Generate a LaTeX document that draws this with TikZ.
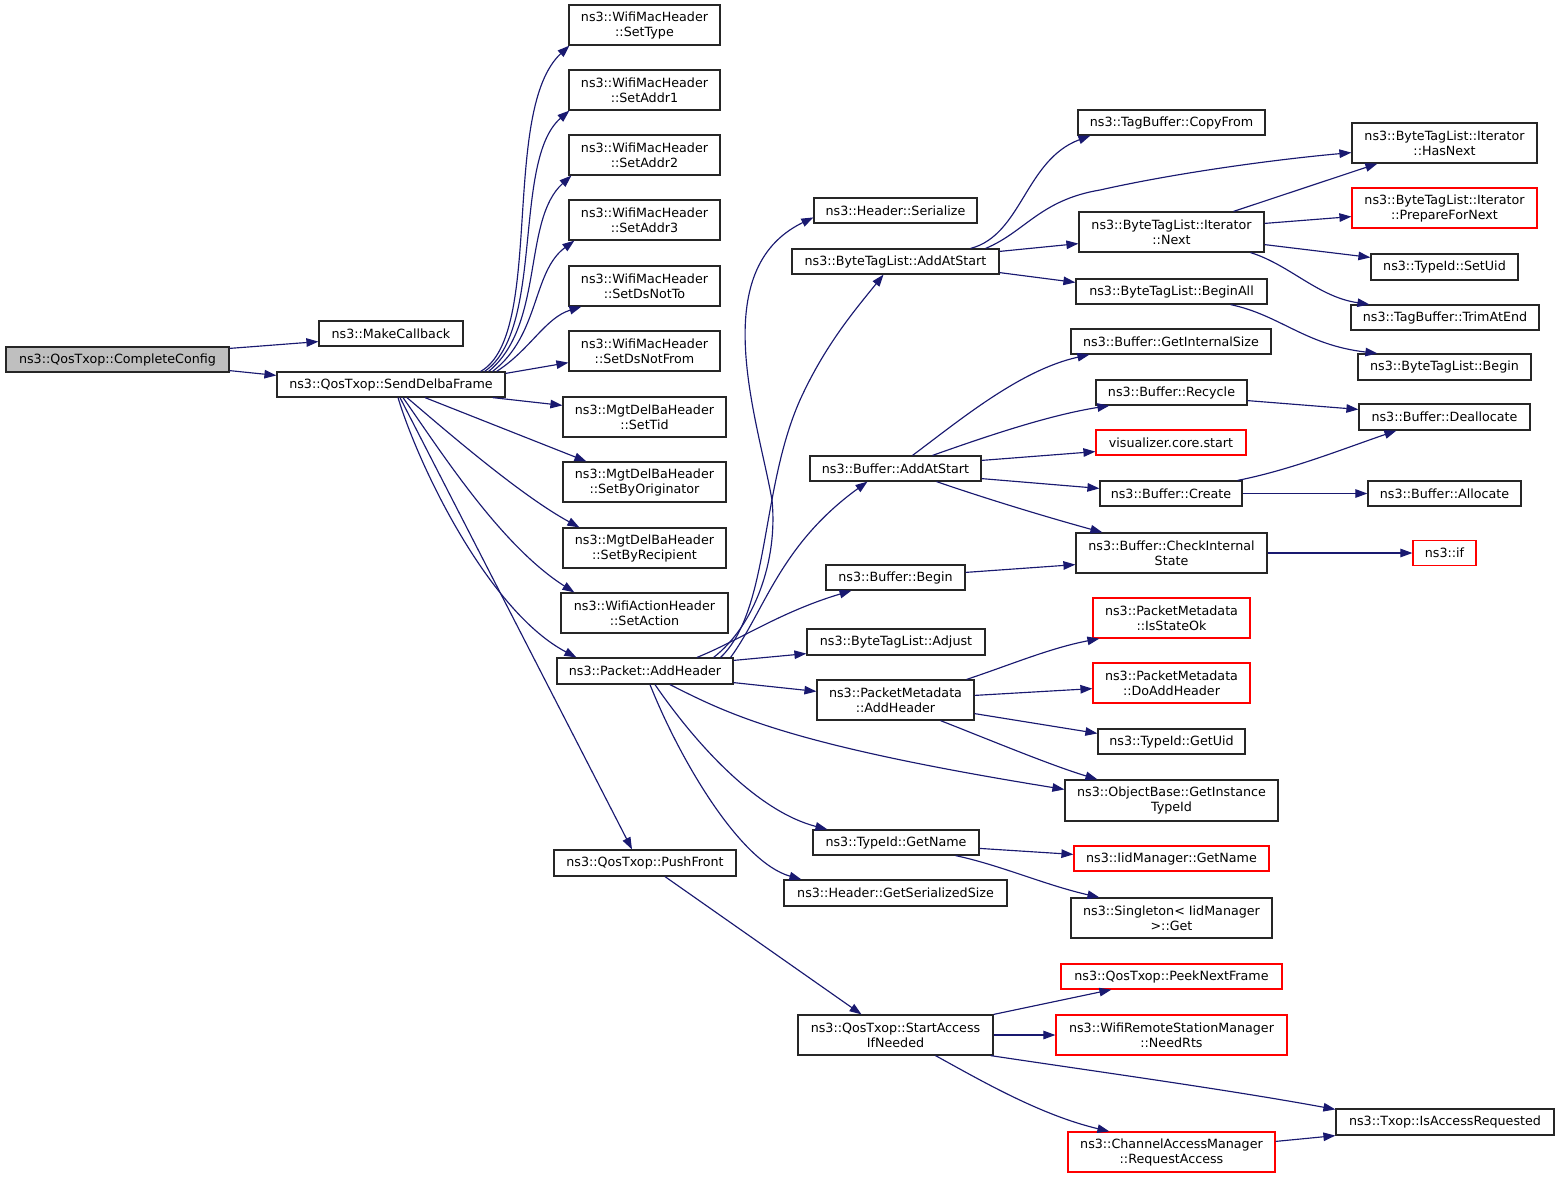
\documentclass[tikz,border=0pt]{standalone}
\usepackage{fontspec}
\setmainfont{DejaVu Sans}
\usetikzlibrary{arrows.meta}
\definecolor{navy}{RGB}{25,25,112}
\definecolor{boxgray}{RGB}{191,191,191}
\begin{document}
\begin{tikzpicture}[x=1pt,y=-1pt,
  box/.style={draw=black!85, line width=1.2pt, inner sep=1pt, align=center, fill=white,
    font=\fontsize{12.7}{15}\selectfont},
  redbox/.style={box, draw=red},
  edge/.style={draw=navy, line width=1.15pt, -{Triangle[length=12pt,width=8.5pt]}}]
\useasboundingbox (0,0) rectangle (1560,1179);
% column 1
\node[box, fill=boxgray, minimum width=223pt, minimum height=25pt] (complete) at (117.5,359.5) {ns3::QosTxop::CompleteConfig};
% column 2
\node[box, minimum width=144pt, minimum height=25pt] (makecb) at (391,333.5) {ns3::MakeCallback};
\node[box, minimum width=228pt, minimum height=25pt] (send) at (391,384.5) {ns3::QosTxop::SendDelbaFrame};
% column 3
\node[box, minimum width=151pt, minimum height=40pt] (settype) at (644.5,25) {ns3::WifiMacHeader\\::SetType};
\node[box, minimum width=151pt, minimum height=40pt] (setaddr1) at (644.5,90) {ns3::WifiMacHeader\\::SetAddr1};
\node[box, minimum width=151pt, minimum height=40pt] (setaddr2) at (644.5,155) {ns3::WifiMacHeader\\::SetAddr2};
\node[box, minimum width=151pt, minimum height=40pt] (setaddr3) at (644.5,220) {ns3::WifiMacHeader\\::SetAddr3};
\node[box, minimum width=151pt, minimum height=40pt] (setdsto) at (644.5,286) {ns3::WifiMacHeader\\::SetDsNotTo};
\node[box, minimum width=151pt, minimum height=40pt] (setdsfrom) at (644.5,351) {ns3::WifiMacHeader\\::SetDsNotFrom};
\node[box, minimum width=163pt, minimum height=40pt] (settid) at (644.5,417) {ns3::MgtDelBaHeader\\::SetTid};
\node[box, minimum width=163pt, minimum height=40pt] (setorig) at (644.5,482) {ns3::MgtDelBaHeader\\::SetByOriginator};
\node[box, minimum width=163pt, minimum height=40pt] (setrecip) at (644.5,548) {ns3::MgtDelBaHeader\\::SetByRecipient};
\node[box, minimum width=167pt, minimum height=40pt] (setaction) at (644.5,613) {ns3::WifiActionHeader\\::SetAction};
\node[box, minimum width=176pt, minimum height=26pt] (addheader) at (645,671) {ns3::Packet::AddHeader};
\node[box, minimum width=182pt, minimum height=26pt] (pushfront) at (645,863) {ns3::QosTxop::PushFront};
% column 4
\node[box, minimum width=163pt, minimum height=25pt] (serialize) at (895.5,210.5) {ns3::Header::Serialize};
\node[box, minimum width=207pt, minimum height=25pt] (btladd) at (895.5,261.5) {ns3::ByteTagList::AddAtStart};
\node[box, minimum width=171pt, minimum height=25pt] (bufadd) at (895.5,468.5) {ns3::Buffer::AddAtStart};
\node[box, minimum width=139pt, minimum height=25pt] (bufbegin) at (895.5,577.5) {ns3::Buffer::Begin};
\node[box, minimum width=178pt, minimum height=26pt] (adjust) at (896,642) {ns3::ByteTagList::Adjust};
\node[box, minimum width=157pt, minimum height=40pt] (pmadd) at (895.5,700) {ns3::PacketMetadata\\::AddHeader};
\node[box, minimum width=166pt, minimum height=25pt] (getname) at (896,842.5) {ns3::TypeId::GetName};
\node[box, minimum width=223pt, minimum height=26pt] (getser) at (895.5,893) {ns3::Header::GetSerializedSize};
\node[box, minimum width=195pt, minimum height=40pt] (startacc) at (895.5,1035) {ns3::QosTxop::StartAccess\\IfNeeded};
% column 5
\node[box, minimum width=187pt, minimum height=25pt] (copyfrom) at (1171.5,122.5) {ns3::TagBuffer::CopyFrom};
\node[box, minimum width=185pt, minimum height=40pt] (itnext) at (1171.5,232) {ns3::ByteTagList::Iterator\\::Next};
\node[box, minimum width=191pt, minimum height=25pt] (beginall) at (1171.5,291.5) {ns3::ByteTagList::BeginAll};
\node[box, minimum width=200pt, minimum height=25pt] (getisize) at (1171,341.5) {ns3::Buffer::GetInternalSize};
\node[box, minimum width=151pt, minimum height=25pt] (recycle) at (1171.5,392.5) {ns3::Buffer::Recycle};
\node[redbox, minimum width=150pt, minimum height=25pt] (visual) at (1171,442.5) {visualizer.core.start};
\node[box, minimum width=142pt, minimum height=25pt] (create) at (1171,493.5) {ns3::Buffer::Create};
\node[box, minimum width=191pt, minimum height=40pt] (checkint) at (1171.5,553) {ns3::Buffer::CheckInternal\\State};
\node[redbox, minimum width=157pt, minimum height=40pt] (isstateok) at (1171.5,618) {ns3::PacketMetadata\\::IsStateOk};
\node[redbox, minimum width=157pt, minimum height=40pt] (doadd) at (1171.5,683) {ns3::PacketMetadata\\::DoAddHeader};
\node[box, minimum width=147pt, minimum height=25pt] (getuid) at (1171.5,741.5) {ns3::TypeId::GetUid};
\node[box, minimum width=213pt, minimum height=41pt] (getinst) at (1171.5,800.5) {ns3::ObjectBase::GetInstance\\TypeId};
\node[redbox, minimum width=195pt, minimum height=25pt] (iidname) at (1171.5,858.5) {ns3::IidManager::GetName};
\node[box, minimum width=201pt, minimum height=40pt] (singleton) at (1171.5,918) {ns3::Singleton< IidManager\\>::Get};
\node[redbox, minimum width=221pt, minimum height=25pt] (peeknext) at (1171.5,976.5) {ns3::QosTxop::PeekNextFrame};
\node[redbox, minimum width=231pt, minimum height=40pt] (needrts) at (1171.5,1035) {ns3::WifiRemoteStationManager\\::NeedRts};
\node[redbox, minimum width=207pt, minimum height=40pt] (reqacc) at (1171.5,1152) {ns3::ChannelAccessManager\\::RequestAccess};
% column 6
\node[box, minimum width=185pt, minimum height=40pt] (hasnext) at (1444.5,143) {ns3::ByteTagList::Iterator\\::HasNext};
\node[redbox, minimum width=185pt, minimum height=40pt] (prepnext) at (1444.5,208) {ns3::ByteTagList::Iterator\\::PrepareForNext};
\node[box, minimum width=147pt, minimum height=26pt] (setuid) at (1444.5,267) {ns3::TypeId::SetUid};
\node[box, minimum width=188pt, minimum height=25pt] (trimend) at (1445,317.5) {ns3::TagBuffer::TrimAtEnd};
\node[box, minimum width=173pt, minimum height=26pt] (btlbegin) at (1444.5,367) {ns3::ByteTagList::Begin};
\node[box, minimum width=171pt, minimum height=26pt] (dealloc) at (1444.5,417) {ns3::Buffer::Deallocate};
\node[box, minimum width=153pt, minimum height=25pt] (alloc) at (1444.5,493.5) {ns3::Buffer::Allocate};
\node[redbox, minimum width=63pt, minimum height=25pt] (nsif) at (1444.5,553) {ns3::if};
\node[box, minimum width=218pt, minimum height=26pt] (isaccreq) at (1445,1122) {ns3::Txop::IsAccessRequested};

% edges from CompleteConfig
\draw[edge] ([yshift=-2pt]complete.north east) -- ([yshift=5pt]makecb.south west);
\draw[edge] ([yshift=2pt]complete.south east) -- ([yshift=-4pt]send.north west);
% edges from SendDelbaFrame
\draw[edge] ([xshift=-25pt]send.north east) .. controls (545,335) and (500,110) .. ([xshift=1pt]settype.south west);
\draw[edge] ([xshift=-21pt]send.north east) .. controls (545,330) and (512,160) .. ([xshift=1pt]setaddr1.south west);
\draw[edge] ([xshift=-17pt]send.north east) .. controls (545,325) and (522,220) .. ([xshift=3pt]setaddr2.south west);
\draw[edge] ([xshift=-13pt]send.north east) .. controls (540,335) and (532,272) .. ([xshift=6pt]setaddr3.south west);
\draw[edge] ([xshift=-9pt]send.north east) .. controls (530,350) and (545,318) .. ([xshift=13pt]setdsto.south west);
\draw[edge] ([yshift=-2pt]send.north east) -- ([yshift=9pt]setdsfrom.south west);
\draw[edge] ([xshift=-13pt]send.south east) -- ([yshift=-9pt]settid.north west);
\draw[edge] ([xshift=34pt]send.south) -- ([xshift=24pt]setorig.north west);
\draw[edge] ([xshift=16pt]send.south) .. controls (445,430) and (520,495) .. ([xshift=17pt]setrecip.north west);
\draw[edge] ([xshift=12pt]send.south) .. controls (440,450) and (500,545) .. ([xshift=14pt]setaction.north west);
\draw[edge] ([xshift=7pt]send.south) .. controls (420,470) and (490,612) .. ([xshift=20pt]addheader.north west);
\draw[edge] ([xshift=9pt]send.south) -- ([xshift=-13pt]pushfront.north);
% edges from Packet::AddHeader
\draw[edge] ([xshift=-20pt]addheader.north east) .. controls (755,625) and (778,560) .. (772,500)
   .. controls (758,420) and (705,270) .. ([yshift=-20pt]serialize.north west);
\draw[edge] ([xshift=-13pt]addheader.north east) .. controls (770,610) and (760,490) .. (800,400)
   .. controls (825,345) and (855,310) .. ([xshift=-12pt]btladd.south);
\draw[edge] ([xshift=-3pt]addheader.north east) .. controls (765,610) and (780,545) .. ([xshift=-28pt]bufadd.south);
\draw[edge] ([xshift=52pt]addheader.north) .. controls (740,640) and (780,612) .. ([xshift=-44pt]bufbegin.south);
\draw[edge] ([yshift=-3pt]addheader.north east) -- ([yshift=2pt]adjust.south west);
\draw[edge] ([yshift=2pt]addheader.south east) -- ([yshift=-12pt]pmadd.north west);
\draw[edge] ([xshift=25pt]addheader.south) .. controls (730,715) and (790,745) .. ([yshift=-10pt]getinst.north west);
\draw[edge] ([xshift=10pt]addheader.south) .. controls (700,750) and (760,812) .. ([xshift=15pt]getname.north west);
\draw[edge] ([xshift=5pt]addheader.south) .. controls (680,760) and (740,862) .. ([xshift=18pt]getser.north west);
% PushFront
\draw[edge] ([xshift=20pt]pushfront.south) -- ([xshift=-34pt]startacc.north);
% ByteTagList::AddAtStart
\draw[edge] ([xshift=-29pt]btladd.north east) .. controls (1022,235) and (1025,160) .. ([xshift=13pt]copyfrom.south west);
\draw[edge] ([xshift=-14pt]btladd.north east) .. controls (1025,232) and (1040,200) .. (1100,190)
   .. controls (1180,172) and (1280,159) .. ([yshift=11pt]hasnext.south west);
\draw[edge] ([yshift=-3pt]btladd.north east) -- ([yshift=9pt]itnext.south west);
\draw[edge] ([yshift=2pt]btladd.south east) -- ([yshift=-4pt]beginall.north west);
% Iterator::Next
\draw[edge] ([xshift=62pt]itnext.north) -- ([xshift=26pt]hasnext.south west);
\draw[edge] ([yshift=-12pt]itnext.north east) -- ([yshift=12pt]prepnext.south west);
\draw[edge] ([yshift=8pt]itnext.south east) -- ([yshift=-4pt]setuid.north west);
\draw[edge] ([xshift=-14pt]itnext.south east) .. controls (1290,265) and (1318,297) .. ([xshift=19pt]trimend.north west);
% BeginAll
\draw[edge] ([xshift=-37pt]beginall.south east) .. controls (1280,315) and (1305,345) .. ([xshift=20pt]btlbegin.north west);
% Buffer::AddAtStart
\draw[edge] ([xshift=17pt]bufadd.north) .. controls (960,420) and (1020,370) .. ([xshift=19pt]getisize.south west);
\draw[edge] ([xshift=37pt]bufadd.north) .. controls (990,435) and (1050,415) .. ([xshift=14pt]recycle.south west);
\draw[edge] ([yshift=-5pt]bufadd.north east) -- ([yshift=4pt]visual.south west);
\draw[edge] ([yshift=3pt]bufadd.south east) -- ([yshift=-8pt]create.north west);
\draw[edge] ([xshift=41pt]bufadd.south) .. controls (990,500) and (1050,518) .. ([xshift=27pt]checkint.north west);
% Recycle, Create
\draw[edge] ([yshift=5pt]recycle.south east) -- ([yshift=-6pt]dealloc.north west);
\draw[edge] ([xshift=-5pt]create.north east) .. controls (1290,470) and (1340,450) .. ([xshift=38pt]dealloc.south west);
\draw[edge] (create.east) -- (alloc.west);
% Buffer::Begin
\draw[edge] ([yshift=-8pt]bufbegin.north east) -- ([yshift=9pt]checkint.south west);
\draw[edge] (checkint.east) -- (nsif.west);
% PacketMetadata::AddHeader
\draw[edge] ([xshift=-8pt]pmadd.north east) .. controls (1010,665) and (1050,648) .. ([xshift=7pt]isstateok.south west);
\draw[edge] ([yshift=-16pt]pmadd.north east) -- ([yshift=15pt]doadd.south west);
\draw[edge] ([yshift=7pt]pmadd.south east) -- ([yshift=-5pt]getuid.north west);
\draw[edge] ([xshift=45pt]pmadd.south) .. controls (990,740) and (1050,765) .. ([xshift=33pt]getinst.north west);
% TypeId::GetName
\draw[edge] ([yshift=-19pt]getname.north east) -- ([yshift=-9pt]iidname.north west);
\draw[edge] ([xshift=-24pt]getname.south east) .. controls (1000,865) and (1045,885) .. ([xshift=29pt]singleton.north west);
% StartAccessIfNeeded
\draw[edge] (startacc.north east) -- ([xshift=51pt]peeknext.south west);
\draw[edge] (startacc.east) -- (needrts.west);
\draw[edge] ([xshift=-3pt]startacc.south east) .. controls (1100,1072) and (1230,1090) .. ([yshift=-1pt]isaccreq.north west);
\draw[edge] ([xshift=40pt]startacc.south) .. controls (980,1080) and (1040,1115) .. ([xshift=42pt]reqacc.north west);
\draw[edge] ([yshift=-10pt]reqacc.north east) -- (isaccreq.south west);
\end{tikzpicture}
\end{document}
